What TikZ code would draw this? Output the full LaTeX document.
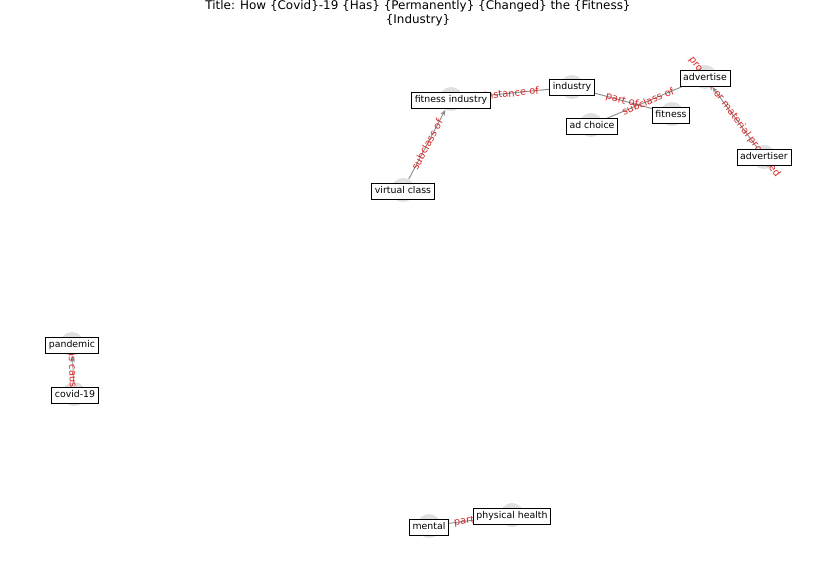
\documentclass[tikz,border=0pt]{standalone}
\usepackage{fontspec}
\setmainfont{DejaVu Sans}
\usetikzlibrary{arrows.meta}
\definecolor{edgegray}{HTML}{8A8A8A}
\definecolor{dotgray}{HTML}{E0E0E0}
\definecolor{lblred}{HTML}{D62728}
\tikzset{
  dot/.style={circle, fill=dotgray, draw=none, minimum size=24bp, inner sep=0pt},
  lbl/.style={draw=black, fill=white, line width=0.8bp, inner sep=3.2bp, text height=7.2bp, text depth=2.3bp, font=\fontsize{9.4}{10}\selectfont},
  edge/.style={draw=edgegray, line width=0.9bp},
  arr/.style={edge, -{Stealth[length=6bp,width=4.5bp]}},
  elbl/.style={text=lblred, font=\fontsize{10}{11}\selectfont, sloped, inner sep=0pt}
}
\begin{document}
\begin{tikzpicture}[x=1bp,y=-1bp]
\useasboundingbox (0,0) rectangle (837,574);
\node[font=\fontsize{12}{14}\selectfont, align=center] (title) at (418,13) {Title: How \{Covid\}-19 \{Has\} \{Permanently\} \{Changed\} the \{Fitness\}\\\{Industry\}};
% circles
\node[dot] (fi) at (451,99) {};
\node[dot] (ind) at (572,87) {};
\node[dot] (vc) at (403,190) {};
\node[dot] (adc) at (591,125) {};
\node[dot] (fit) at (672,114) {};
\node[dot] (adv) at (705,77) {};
\node[dot] (advr) at (764,157) {};
\node[dot] (pan) at (72,344) {};
\node[dot] (cov) at (74,394) {};
\node[dot] (men) at (429,526) {};
\node[dot] (ph) at (512,515) {};
% edges
\draw[arr] (vc) -- (fi);
\draw[arr] (fi) -- (ind);
\draw[arr] (ind) -- (fit);
\draw[arr] (adc) -- (adv);
\draw[arr] (advr) -- (adv);
\draw[arr] (cov) -- (pan);
\draw[arr] (men) -- (ph);
% edge labels
\path (vc) -- node[elbl] (l1) {subclass of} (fi);
\path (fi) -- node[elbl] (l2) {instance of} (ind);
\path (ind) -- node[elbl] (l3) {part of} (fit);
\path (adc) -- node[elbl] (l4) {subclass of} (adv);
\path (adv) -- node[elbl] (l5) {product or material produced} (advr);
\path (pan) -- node[elbl] (l6) {has cause} (cov);
\path (men) -- node[elbl] (l7) {part of} (ph);
% label boxes
\node[lbl] (bfi) at (451,100) {fitness industry};
\node[lbl] (bind) at (572,87) {industry};
\node[lbl] (bvc) at (403,191) {virtual class};
\node[lbl] (badc) at (592,126) {ad choice};
\node[lbl] (bfit) at (671,115) {fitness};
\node[lbl] (badv) at (705,78) {advertise};
\node[lbl] (badvr) at (764,157) {advertiser};
\node[lbl] (bpan) at (72,345) {pandemic};
\node[lbl] (bcov) at (75,395) {covid-19};
\node[lbl] (bmen) at (429,527) {mental};
\node[lbl] (bph) at (512,516) {physical health};
\end{tikzpicture}
\end{document}
